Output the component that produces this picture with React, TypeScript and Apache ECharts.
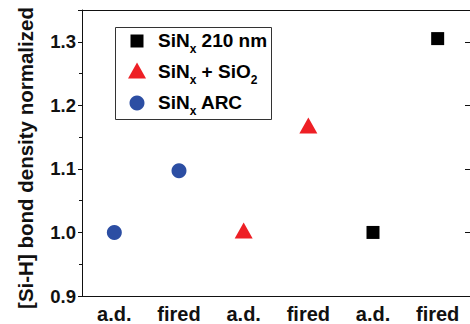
import React, { useEffect, useRef } from "react";
import * as echarts from "echarts";

const categories = ["a.d.", "fired", "a.d.", "fired", "a.d.", "fired"];
const yTicks = { min: 0.9, max: 1.35, interval: 0.1 };
const seriesNames = ["SiNx 210 nm", "SiNx + SiO2", "SiNx ARC"];
const arcValues: [number, number][] = [
  [0, 1.0],
  [1, 1.097],
];
const sio2Values: [number, number][] = [
  [2, 1.0],
  [3, 1.165],
];
const sin210Values: [number, number][] = [
  [4, 1.0],
  [5, 1.305],
];

const FONT = "'Liberation Sans', Arial, Helvetica, sans-serif";
const BLUE = "#2c4ea3";
const RED = "#ee1f25";
const BLACK = "#000000";

export default function App() {
  const ref = useRef<HTMLDivElement>(null);
  useEffect(() => {
    if (!ref.current) return;
    const chart = echarts.init(ref.current, null, { renderer: "svg" });
    const rich = {
      m: { fontSize: 19, fontWeight: "bold", fontFamily: FONT, color: "#000", verticalAlign: "top", lineHeight: 20 },
      s: { fontSize: 12, fontWeight: "bold", fontFamily: FONT, color: "#000", verticalAlign: "top", lineHeight: 20, padding: [12, 0, 0, 0] },
    };
    const legendTexts = [
      "{m|SiN}{s|x}{m| 210 nm}",
      "{m|SiN}{s|x}{m| + SiO}{s|2}",
      "{m|SiN}{s|x}{m| ARC}",
    ];
    const rowY = [41, 72, 103];
    chart.setOption({
      animation: false,
      backgroundColor: "#fff",
      grid: { left: 82, top: 10, right: -4, bottom: 27, containLabel: false },
      xAxis: [
        {
          type: "category",
          data: categories,
          position: "bottom",
          axisLine: { lineStyle: { color: "#111", width: 1 } },
          axisTick: { alignWithLabel: true, length: 6, lineStyle: { color: "#111" } },
          axisLabel: { fontSize: 20, fontWeight: "bold", fontFamily: FONT, color: "#111", margin: 8 },
          splitLine: { show: false },
        },
        {
          type: "category",
          data: categories,
          position: "top",
          axisLine: { lineStyle: { color: "#111", width: 1 } },
          axisTick: { alignWithLabel: true, inside: true, length: 5, lineStyle: { color: "#111" } },
          axisLabel: { show: false },
          splitLine: { show: false },
        },
      ],
      yAxis: [
        {
          type: "value",
          min: yTicks.min,
          max: yTicks.max,
          interval: yTicks.interval,
          position: "left",
          name: "[Si-H] bond density normalized",
          nameLocation: "middle",
          nameGap: 46,
          nameTextStyle: { fontSize: 20.5, fontWeight: "bold", fontFamily: FONT, color: "#111", padding: [0, 10, 0, 0] },
          axisLine: { show: true, lineStyle: { color: "#111", width: 1 } },
          axisTick: { show: true, length: 4, lineStyle: { color: "#111" } },
          minorTick: { show: true, splitNumber: 2, length: 3, lineStyle: { color: "#111" } },
          axisLabel: {
            fontSize: 18.5,
            fontWeight: "bold",
            fontFamily: FONT,
            color: "#111",
            margin: 6,
            showMaxLabel: false,
            formatter: (v: number) => v.toFixed(1),
          },
          splitLine: { show: false },
        },
        {
          type: "value",
          min: yTicks.min,
          max: yTicks.max,
          interval: yTicks.interval,
          position: "right",
          axisLine: { show: true, lineStyle: { color: "#111", width: 1 } },
          axisTick: { show: true, inside: true, length: 5, lineStyle: { color: "#111" } },
          axisLabel: { show: false },
          splitLine: { show: false },
        },
      ],
      series: [
        {
          name: seriesNames[0],
          type: "scatter",
          symbol: "rect",
          symbolSize: 13,
          itemStyle: { color: BLACK, opacity: 1 },
          data: sin210Values,
        },
        {
          name: seriesNames[1],
          type: "scatter",
          symbol: "triangle",
          symbolSize: [18, 16],
          symbolOffset: [0, -2],
          itemStyle: { color: RED, opacity: 1 },
          data: sio2Values,
        },
        {
          name: seriesNames[2],
          type: "scatter",
          symbol: "circle",
          symbolSize: 15,
          itemStyle: { color: BLUE, opacity: 1 },
          data: arcValues,
        },
      ],
      graphic: [
        {
          type: "rect",
          shape: { x: 115.5, y: 27.5, width: 156, height: 92 },
          style: { fill: "#fff", stroke: "#333", lineWidth: 1 },
          z: 10,
        },
        {
          type: "rect",
          shape: { x: 130.5, y: 34.5, width: 13, height: 13 },
          style: { fill: BLACK },
          z: 11,
        },
        {
          type: "polygon",
          shape: { points: [[128, 78.5], [146, 78.5], [137, 62.5]] },
          style: { fill: RED },
          z: 11,
        },
        {
          type: "circle",
          shape: { cx: 137, cy: 103, r: 7.5 },
          style: { fill: BLUE },
          z: 11,
        },
        ...legendTexts.map((t, i) => ({
          type: "text",
          x: 158,
          y: rowY[i] - 10,
          z: 11,
          style: { text: t, rich, fill: "#000" },
        })),
      ],
    });
    return () => chart.dispose();
  }, []);
  return (
    <div
      ref={ref}
      style={{ position: "fixed", left: 0, top: 0, width: 470, height: 324 }}
    />
  );
}
